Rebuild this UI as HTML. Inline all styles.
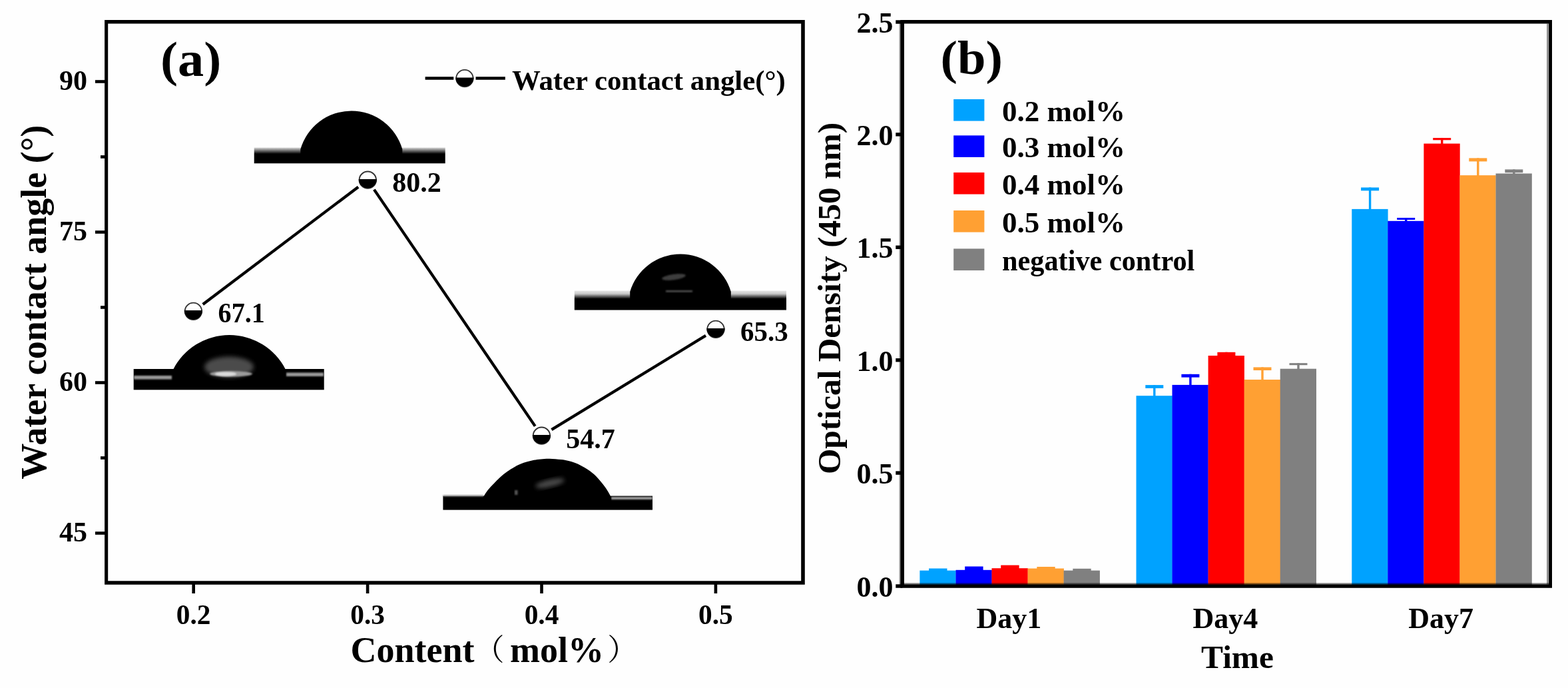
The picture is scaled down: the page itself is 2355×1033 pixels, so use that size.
<!DOCTYPE html>
<html lang="en"><head><meta charset="utf-8"><title>Water contact angle and optical density</title>
<style>
html,body{margin:0;padding:0;background:#fff;}
body{width:2355px;height:1033px;overflow:hidden;}
main,figure{display:block;margin:0;padding:0;width:2355px;height:1033px;}
svg{display:block;}
text{font-family:"Liberation Serif", "Noto Serif CJK SC", serif;font-weight:bold;fill:#000;}
.cjk{font-weight:normal;}
</style></head><body>
<main><figure>
<svg width="2355" height="1033" viewBox="0 0 2355 1033" role="img" aria-label="(a) Water contact angle versus content (mol%); (b) Optical density at 450 nm over time">
<rect width="2355" height="1033" fill="#fefefe"/>
<g id="panel-a">
<path fill="#000" fill-rule="evenodd" d="M157.1,30 H1208.8 V877.8 H157.1 Z M162.2,35.4 V872.3 H1203.2 V35.4 Z"/>
<rect x="143" y="120.2" width="15" height="4.6" fill="#000"/>
<text x="131.0" y="135.2" font-size="42.0" text-anchor="end">90</text>
<rect x="143" y="346.2" width="15" height="4.6" fill="#000"/>
<text x="131.0" y="361.2" font-size="42.0" text-anchor="end">75</text>
<rect x="143" y="572.2" width="15" height="4.6" fill="#000"/>
<text x="131.0" y="587.2" font-size="42.0" text-anchor="end">60</text>
<rect x="143" y="798.2" width="15" height="4.6" fill="#000"/>
<text x="131.0" y="813.2" font-size="42.0" text-anchor="end">45</text>
<rect x="151" y="233.2" width="7" height="4.6" fill="#000"/>
<rect x="151" y="459.2" width="7" height="4.6" fill="#000"/>
<rect x="151" y="685.2" width="7" height="4.6" fill="#000"/>
<rect x="288.4" y="877" width="4.6" height="14" fill="#000"/>
<text transform="translate(290.7 936.5) scale(0.985 1)" font-size="42.0" text-anchor="middle">0.2</text>
<rect x="549.8" y="877" width="4.6" height="14" fill="#000"/>
<text transform="translate(552.1 936.5) scale(0.985 1)" font-size="42.0" text-anchor="middle">0.3</text>
<rect x="811.2" y="877" width="4.6" height="14" fill="#000"/>
<text transform="translate(813.5 936.5) scale(0.985 1)" font-size="42.0" text-anchor="middle">0.4</text>
<rect x="1072.6" y="877" width="4.6" height="14" fill="#000"/>
<text transform="translate(1074.9 936.5) scale(0.985 1)" font-size="42.0" text-anchor="middle">0.5</text>
<text font-size="54" y="994.3"><tspan x="526.5">Content</tspan><tspan class="cjk" font-size="45" x="712.5" dy="-2">（</tspan><tspan x="766" dy="2">mol%</tspan><tspan class="cjk" font-size="45" x="912.3" dy="-2">）</tspan></text>
<text font-size="54" transform="translate(69.2,453.7) rotate(-90)" text-anchor="middle">Water contact angle (°)</text>
<text transform="translate(241.0 114.0) scale(1.055 1)" font-size="74.3" text-anchor="start">(a)</text>
<defs>
<filter id="b1" x="-20%" y="-20%" width="140%" height="140%"><feGaussianBlur stdDeviation="3"/></filter>
<filter id="b2" x="-20%" y="-50%" width="140%" height="200%"><feGaussianBlur stdDeviation="1.2"/></filter>
<linearGradient id="g2" x1="0" y1="0" x2="0" y2="1"><stop offset="0" stop-color="#ddd"/><stop offset="0.12" stop-color="#999"/><stop offset="0.4" stop-color="#000"/><stop offset="1" stop-color="#000"/></linearGradient>
<linearGradient id="g4" x1="0" y1="0" x2="0" y2="1"><stop offset="0" stop-color="#e6e6e6"/><stop offset="0.16" stop-color="#c8c8c8"/><stop offset="0.42" stop-color="#000"/><stop offset="1" stop-color="#000"/></linearGradient>
</defs>
<g id="drop1">
<rect x="200.7" y="554" width="286" height="31.3" fill="#000"/>
<rect x="201" y="564" width="57" height="5.5" fill="#999" filter="url(#b2)"/>
<rect x="430" y="559.5" width="56" height="5.5" fill="#9a9a9a" filter="url(#b2)"/>
<path d="M260.0,555.0 A94.7,94.7 0 0 1 429.0,555.0 L429.0,565.0 L260.0,565.0 Z" fill="#000"/>
<ellipse cx="344" cy="551" rx="37" ry="15.5" fill="#4c4c4c" filter="url(#b1)"/>
<ellipse cx="347" cy="561.3" rx="32" ry="4.2" fill="#9c9c9c" filter="url(#b2)"/>
<ellipse cx="339" cy="561.6" rx="16" ry="3.2" fill="#dcdcdc" filter="url(#b2)"/>
</g>
<g id="drop2">
<rect x="381.7" y="221.5" width="287" height="23.8" fill="url(#g2)"/>
<path d="M451.3,224.0 A79.6,79.6 0 0 1 604.3,224.0 L604.3,236.0 L451.3,236.0 Z" fill="#000"/>
</g>
<g id="drop3">
<rect x="665.4" y="744.6" width="314.6" height="21" fill="#000"/>
<rect x="665.4" y="743.2" width="61" height="2.2" fill="#999" filter="url(#b2)"/>
<rect x="918" y="746.2" width="62" height="3.6" fill="#b0b0b0" filter="url(#b2)"/>
<path d="M726.0,746.0 C727.1,744.4 730.1,739.3 732.6,736.1 C735.1,732.9 737.7,730.1 740.8,726.9 C743.9,723.7 747.6,719.8 751.0,716.7 C754.4,713.6 757.8,711.0 761.2,708.5 C764.6,706.0 768.0,703.9 771.4,701.9 C774.8,699.9 778.1,698.2 781.5,696.8 C784.9,695.4 788.3,694.3 791.7,693.3 C795.1,692.3 798.5,691.4 801.9,690.7 C805.3,690.1 808.2,689.7 812.1,689.4 C816.0,689.1 820.3,688.6 825.4,688.7 C830.5,688.8 838.1,689.5 842.7,690.0 C847.3,690.5 849.5,690.9 852.9,691.7 C856.3,692.5 859.7,693.5 863.1,694.8 C866.5,696.1 869.9,697.6 873.3,699.4 C876.7,701.2 880.1,703.1 883.5,705.5 C886.9,707.9 890.3,710.4 893.7,713.6 C897.1,716.8 901.2,721.7 903.9,724.9 C906.6,728.1 908.0,730.0 910.0,733.0 C912.0,736.0 914.8,740.7 916.1,743.2 C917.4,745.7 917.5,747.2 917.8,748.0 L917.8,756 L726,756 Z" fill="#000"/>
<ellipse cx="826" cy="725.5" rx="22" ry="5.5" fill="#4a4a4a" transform="rotate(-13 826 725.5)" filter="url(#b1)"/>
<rect x="773" y="736" width="4.5" height="7" fill="#555" filter="url(#b2)"/>
</g>
<g id="drop4">
<rect x="862.8" y="436.5" width="318.2" height="29" fill="url(#g4)"/>
<path d="M946.2,438.0 A79.1,79.1 0 0 1 1097.8,438.0 L1097.8,450.0 L946.2,450.0 Z" fill="#000"/>
<ellipse cx="1012" cy="416" rx="18" ry="4.2" fill="#3c3c3c" transform="rotate(-8 1012 416)" filter="url(#b2)"/>
<rect x="1000" y="436" width="40" height="2.5" fill="#555" filter="url(#b2)"/>
</g>
<line x1="304.7" y1="457.0" x2="538.1" y2="280.7" stroke="#000" stroke-width="4.3"/>
<line x1="561.9" y1="284.6" x2="803.7" y2="639.9" stroke="#000" stroke-width="4.3"/>
<line x1="828.4" y1="645.2" x2="1060.0" y2="503.8" stroke="#000" stroke-width="4.3"/>
<circle cx="290.4" cy="467.3" r="12.7" fill="#fff" stroke="#333" stroke-width="1.9"/><path d="M276.8,466.1 A13.6,13.6 0 0 0 304.0,466.1 Z" fill="#000"/>
<text transform="translate(327.6 484.3) scale(0.955 1)" font-size="42.0" text-anchor="start">67.1</text>
<circle cx="552.3" cy="270.2" r="12.7" fill="#fff" stroke="#333" stroke-width="1.9"/><path d="M538.7,269.0 A13.6,13.6 0 0 0 565.9,269.0 Z" fill="#000"/>
<text x="589.2" y="288.2" font-size="42.0" text-anchor="start">80.2</text>
<circle cx="813.4" cy="654.2" r="12.7" fill="#fff" stroke="#333" stroke-width="1.9"/><path d="M799.8,653.0 A13.6,13.6 0 0 0 827.0,653.0 Z" fill="#000"/>
<text x="850.3" y="672.5" font-size="42.0" text-anchor="start">54.7</text>
<circle cx="1075.0" cy="494.3" r="12.7" fill="#fff" stroke="#333" stroke-width="1.9"/><path d="M1061.4,493.1 A13.6,13.6 0 0 0 1088.6,493.1 Z" fill="#000"/>
<text transform="translate(1112.0 512.2) scale(0.975 1)" font-size="42.0" text-anchor="start">65.3</text>
<path d="M638.6,117.5 H681.3 M714.5,117.5 H758.8" stroke="#000" stroke-width="4.5" fill="none"/>
<circle cx="697.9" cy="117.6" r="12.7" fill="#fff" stroke="#333" stroke-width="1.9"/><path d="M684.3,116.4 A13.6,13.6 0 0 0 711.5,116.4 Z" fill="#000"/>
<text transform="translate(769.0 135.0) scale(1.019 1)" font-size="42.0" text-anchor="start">Water contact angle(°)</text>
</g>
<g id="panel-b">
<rect x="1381.4" y="856.6" width="54.3" height="21.9" fill="#00a2ff"/>
<rect x="1395.1" y="853.5" width="27.4" height="4.1" fill="#00a2ff"/>
<rect x="1435.5" y="855.8" width="54.3" height="22.7" fill="#0000ff"/>
<rect x="1449.2" y="850.5" width="27.4" height="6.3" fill="#0000ff"/>
<rect x="1489.5" y="853.2" width="54.3" height="25.3" fill="#ff0000"/>
<rect x="1503.2" y="848.6" width="27.4" height="5.6" fill="#ff0000"/>
<rect x="1543.6" y="853.5" width="54.3" height="25.0" fill="#ffa033"/>
<rect x="1557.3" y="851.0" width="27.4" height="3.5" fill="#ffa033"/>
<rect x="1597.6" y="856.6" width="54.3" height="21.9" fill="#808080"/>
<rect x="1611.3" y="853.8" width="27.4" height="3.8" fill="#808080"/>
<rect x="1706.5" y="594.2" width="54.3" height="284.3" fill="#00a2ff"/>
<rect x="1732.1" y="578.1" width="3.4" height="17.1" fill="#00a2ff"/>
<rect x="1720.3" y="578.1" width="27" height="4.8" fill="#00a2ff"/>
<rect x="1760.5" y="577.9" width="54.3" height="300.6" fill="#0000ff"/>
<rect x="1786.2" y="561.8" width="3.4" height="17.1" fill="#0000ff"/>
<rect x="1774.4" y="561.8" width="27" height="4.8" fill="#0000ff"/>
<rect x="1814.6" y="534.0" width="54.3" height="344.5" fill="#ff0000"/>
<rect x="1840.2" y="528.8" width="3.4" height="6.2" fill="#ff0000"/>
<rect x="1828.4" y="528.8" width="27" height="5.4" fill="#ff0000"/>
<rect x="1868.7" y="570.0" width="54.3" height="308.5" fill="#ffa033"/>
<rect x="1894.3" y="551.4" width="3.4" height="19.6" fill="#ffa033"/>
<rect x="1882.5" y="551.4" width="27" height="4.6" fill="#ffa033"/>
<rect x="1922.7" y="553.7" width="54.3" height="324.8" fill="#808080"/>
<rect x="1948.3" y="545.2" width="3.4" height="9.5" fill="#808080"/>
<rect x="1936.5" y="545.2" width="27" height="3.0" fill="#808080"/>
<rect x="2030.3" y="313.9" width="54.3" height="564.6" fill="#00a2ff"/>
<rect x="2055.9" y="281.5" width="3.4" height="33.4" fill="#00a2ff"/>
<rect x="2044.1" y="281.5" width="27" height="4.8" fill="#00a2ff"/>
<rect x="2084.3" y="331.8" width="54.3" height="546.7" fill="#0000ff"/>
<rect x="2110.0" y="327.0" width="3.4" height="5.8" fill="#0000ff"/>
<rect x="2098.2" y="327.0" width="27" height="3.0" fill="#0000ff"/>
<rect x="2138.4" y="215.6" width="54.3" height="662.9" fill="#ff0000"/>
<rect x="2164.0" y="207.1" width="3.4" height="9.5" fill="#ff0000"/>
<rect x="2152.2" y="207.1" width="27" height="3.2" fill="#ff0000"/>
<rect x="2192.4" y="263.2" width="54.3" height="615.3" fill="#ffa033"/>
<rect x="2218.1" y="237.4" width="3.4" height="26.8" fill="#ffa033"/>
<rect x="2206.3" y="237.4" width="27" height="5.0" fill="#ffa033"/>
<rect x="2246.5" y="260.5" width="54.3" height="618.0" fill="#808080"/>
<rect x="2272.1" y="254.4" width="3.4" height="7.1" fill="#808080"/>
<rect x="2260.3" y="254.4" width="27" height="4.8" fill="#808080"/>
<rect x="1352.5" y="875.4" width="978" height="2.6" fill="#000" opacity="0.5"/>
<path fill="#000" fill-rule="evenodd" d="M1352.3,30.1 H2331 V882.7 H1352.3 Z M1358,35.5 V877.5 H2326 V35.5 Z"/>
<rect x="1350.6" y="33" width="1.8" height="847" fill="#000" opacity="0.4"/>
<rect x="2323.2" y="35.5" width="2.3" height="842" fill="#000" opacity="0.5"/>
<rect x="1345.3" y="877.3" width="10" height="5.4" fill="#000"/>
<text x="1341.5" y="896.1" font-size="44.0" text-anchor="end">0.0</text>
<rect x="1345.3" y="707.4" width="10" height="5.4" fill="#000"/>
<text x="1341.5" y="726.2" font-size="44.0" text-anchor="end">0.5</text>
<rect x="1345.3" y="538.0" width="10" height="5.4" fill="#000"/>
<text x="1341.5" y="556.8" font-size="44.0" text-anchor="end">1.0</text>
<rect x="1345.3" y="368.6" width="10" height="5.4" fill="#000"/>
<text x="1341.5" y="387.4" font-size="44.0" text-anchor="end">1.5</text>
<rect x="1345.3" y="199.2" width="10" height="5.4" fill="#000"/>
<text x="1341.5" y="218.0" font-size="44.0" text-anchor="end">2.0</text>
<rect x="1345.3" y="30.3" width="10" height="5.4" fill="#000"/>
<text x="1341.5" y="49.1" font-size="44.0" text-anchor="end">2.5</text>
<text x="1515.3" y="943.3" font-size="44.0" text-anchor="middle">Day1</text>
<text x="1840.4" y="943.3" font-size="44.0" text-anchor="middle">Day4</text>
<text x="2164.2" y="943.3" font-size="44.0" text-anchor="middle">Day7</text>
<text x="1858.5" y="1003.0" font-size="49.4" text-anchor="middle">Time</text>
<text font-size="49.4" transform="translate(1262.4,448) rotate(-90)" text-anchor="middle">Optical Density (450 nm)</text>
<text transform="translate(1412.5 110.8) scale(1.053 1)" font-size="72.6" text-anchor="start">(b)</text>
<rect x="1432.2" y="149.0" width="46.2" height="32.6" fill="#00a2ff"/>
<text x="1505.0" y="181.6" font-size="45.0" text-anchor="start">0.2 mol%</text>
<rect x="1432.2" y="203.4" width="46.2" height="32.6" fill="#0000ff"/>
<text x="1505.0" y="236.0" font-size="45.0" text-anchor="start">0.3 mol%</text>
<rect x="1432.2" y="259.0" width="46.2" height="32.6" fill="#ff0000"/>
<text x="1505.0" y="291.6" font-size="45.0" text-anchor="start">0.4 mol%</text>
<rect x="1432.2" y="316.0" width="46.2" height="32.6" fill="#ffa033"/>
<text x="1505.0" y="348.6" font-size="45.0" text-anchor="start">0.5 mol%</text>
<rect x="1432.2" y="373.4" width="46.2" height="32.6" fill="#808080"/>
<text transform="translate(1505.0 406.0) scale(0.940 1)" font-size="45.0" text-anchor="start">negative control</text>
</g>
</svg>
</figure></main>
</body></html>
